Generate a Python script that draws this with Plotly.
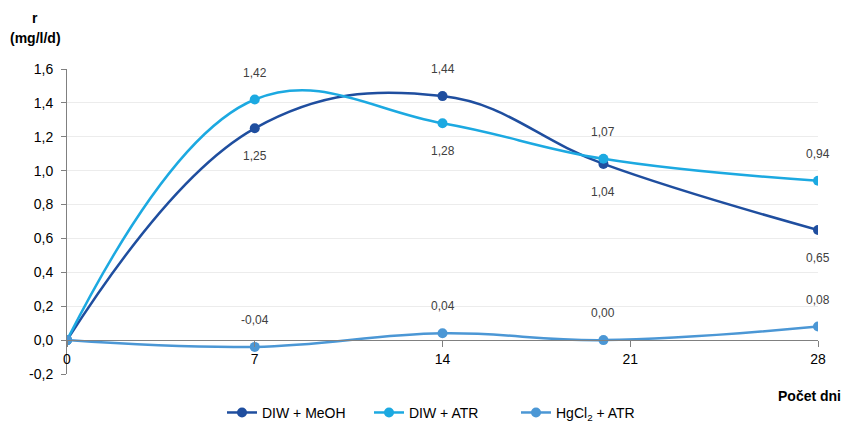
import plotly.graph_objects as go

days = [0, 7, 14, 20, 28]
meoh = [0.00, 1.25, 1.44, 1.04, 0.65]
atr = [0.00, 1.42, 1.28, 1.07, 0.94]
hg = [0.00, -0.04, 0.04, 0.00, 0.08]
meoh_lbl_pos = [None, "below", "above", "below", "below"]
atr_lbl_pos = [None, "above", "below", "above", "above"]
hg_lbl_pos = [None, "above", "above", "above", "above"]

y_ticks = [-0.2, 0.0, 0.2, 0.4, 0.6, 0.8, 1.0, 1.2, 1.4, 1.6]
x_ticks = [0, 7, 14, 21, 28]

names = ["DIW + MeOH", "DIW + ATR", "HgCl<sub>2</sub> + ATR"]
colors = ["#1f4e9f", "#1ca9e1", "#4b97d5"]
series = [meoh, atr, hg]
positions = [meoh_lbl_pos, atr_lbl_pos, hg_lbl_pos]

def fmt(v, nd):
    return f"{v:.{nd}f}".replace(".", ",")

FONT = "Liberation Sans, Arial"

fig = go.Figure()
for name, col, ys in zip(names, colors, series):
    fig.add_trace(go.Scatter(
        x=days, y=ys, name=name, mode="lines+markers",
        line=dict(color=col, width=2.5, shape="spline", smoothing=1.15),
        marker=dict(color=col, size=10),
    ))

annotations = []
for ys, pos in zip(series, positions):
    for xv, yv, p in zip(days, ys, pos):
        if p is None:
            continue
        annotations.append(dict(
            x=xv, y=yv, xref="x", yref="y",
            text=fmt(yv, 2),
            showarrow=False, yshift=27 if p == "above" else -28,
            font=dict(family=FONT, size=12, color="#404040"),
        ))

annotations.append(dict(
    x=0, y=1.0, xref="paper", yref="paper", xanchor="center", yanchor="middle",
    text="<b>r</b>", showarrow=False, yshift=51, xshift=-32,
    font=dict(family=FONT, size=14, color="#000000"),
))
annotations.append(dict(
    x=0, y=1.0, xref="paper", yref="paper", xanchor="center", yanchor="middle",
    text="<b>(mg/l/d)</b>", showarrow=False, yshift=31, xshift=-32,
    font=dict(family=FONT, size=14, color="#000000"),
))
annotations.append(dict(
    x=1.0, y=0.0, xref="paper", yref="paper", xanchor="right", yanchor="top",
    text="<b>Počet dni</b>", showarrow=False, yshift=-12, xshift=25,
    font=dict(family=FONT, size=14, color="#000000"),
))

# page body has an 8px margin, so the figure is drawn 8px smaller and offset
fig.update_layout(
    width=843, height=419,
    margin=dict(l=59, r=33, t=61, b=53, autoexpand=False),
    paper_bgcolor="white", plot_bgcolor="white",
    font=dict(family=FONT, size=14, color="#000000"),
    showlegend=True,
    legend=dict(orientation="h", x=0.5, xanchor="center", y=-0.075, yanchor="top",
                font=dict(size=14), traceorder="normal", entrywidth=102, entrywidthmode="pixels"),
    annotations=annotations,
    xaxis=dict(range=[0, 28], tickvals=x_ticks, ticktext=[str(t) for t in x_ticks],
               showgrid=False, zeroline=False, showline=True, linecolor="#808080", linewidth=1,
               ticks="outside", ticklen=6, tickcolor="#808080",
               anchor="free", position=0.2 / 1.8, tickfont=dict(size=14)),
    yaxis=dict(range=[-0.2, 1.6], tickvals=y_ticks, ticktext=[fmt(t, 1) for t in y_ticks],
               showgrid=True, gridcolor="#ececec", gridwidth=1, zeroline=False,
               showline=True, linecolor="#808080", linewidth=1,
               ticks="outside", ticklen=5, tickcolor="#808080", tickfont=dict(size=14),
               ticklabelstandoff=5),
)

fig.write_html("out.html")
